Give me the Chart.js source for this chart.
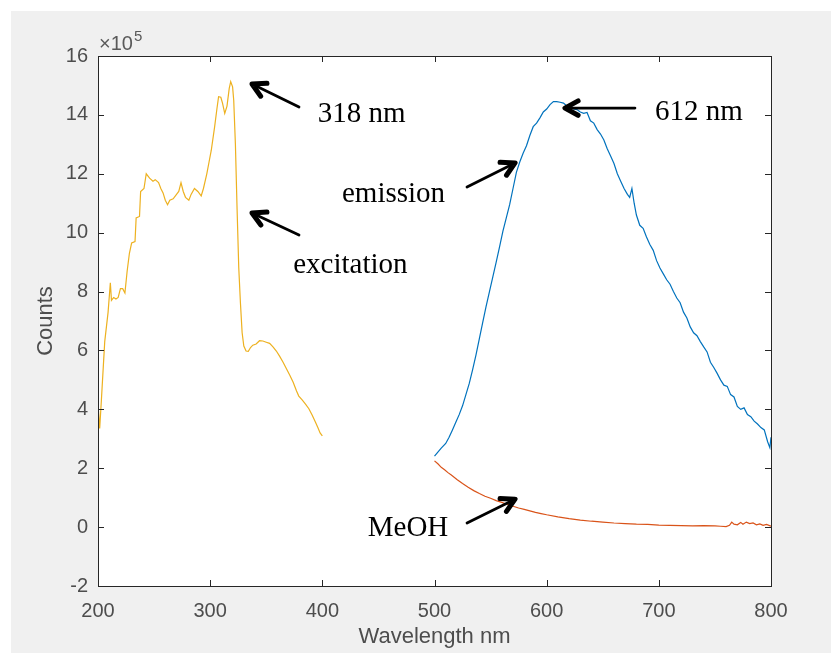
<!DOCTYPE html>
<html>
<head>
<meta charset="utf-8">
<script src="https://cdn.jsdelivr.net/npm/chart.js@4"></script>
<style>
  html, body { margin: 0; padding: 0; background: #ffffff; }
  #wrap { width: 831px; height: 653px; }
</style>
</head>
<body>
<div id="wrap"><canvas id="spectra"></canvas></div>
<script>
// excitation scan (yellow), values in units of 10^5 counts
var excitationNm = [200, 201.5, 203, 206, 209, 211, 212, 214, 216, 218, 220, 222, 224, 226, 228, 230, 233, 234, 237, 238,
  241, 243, 246, 249, 251, 254, 256, 258, 260, 262, 264, 267, 270, 272, 274, 276, 278, 281, 283, 286,
  289, 292, 294, 297, 299, 301, 304, 306, 307.5, 309.5, 311, 313, 315, 317, 318.3, 320, 321, 322.5, 324, 325.5,
  327, 328.5, 330, 332, 334, 336, 338, 341, 344, 347, 350, 353, 356, 359, 362, 365, 368, 371, 374, 377,
  379, 382, 385, 388, 391, 394, 396, 398, 400];
var excitationCounts = [4.2, 3.35, 4.3, 6.3, 7.3, 8.3, 7.7, 7.8, 7.75, 7.8, 8.1, 8.1, 7.95, 8.7, 9.3, 9.65, 9.7, 10.5, 10.55, 11.4,
  11.5, 12.0, 11.85, 11.75, 11.8, 11.7, 11.5, 11.35, 11.1, 10.95, 11.1, 11.15, 11.3, 11.4, 11.7, 11.4, 11.2, 11.1, 11.3, 11.5,
  11.4, 11.25, 11.5, 12.0, 12.4, 12.8, 13.6, 14.2, 14.62, 14.6, 14.4, 14.05, 14.3, 14.9, 15.13, 14.95, 14.5, 13.0, 10.8, 8.8,
  7.6, 6.6, 6.15, 5.98, 5.97, 6.1, 6.18, 6.22, 6.33, 6.32, 6.28, 6.24, 6.12, 5.98, 5.8, 5.6, 5.38, 5.16, 4.92, 4.62,
  4.45, 4.32, 4.18, 4.02, 3.8, 3.55, 3.38, 3.2, 3.1];

// emission scan (blue)
var emissionNm = [500, 503, 506, 510, 513, 516, 519, 522, 525, 528, 531, 534, 537, 540, 543, 546, 549, 552, 555, 558,
  561, 564, 567, 570, 573, 576, 579, 582, 585, 588, 591, 594, 597, 600, 603, 606, 609, 612, 615, 618,
  621, 624, 627, 630, 633, 636, 639, 642, 645, 648, 651, 654, 657, 660, 663, 666, 669, 672, 674, 676,
  678, 680, 683, 686, 689, 692, 695, 698, 701, 704, 707, 710, 713, 716, 719, 722, 725, 728, 731, 734,
  737, 740, 743, 746, 749, 752, 755, 758, 761, 764, 767, 770, 773, 776, 779, 782, 785, 788, 791, 794,
  797, 799, 800];
var emissionCounts = [2.41, 2.55, 2.68, 2.84, 3.05, 3.3, 3.56, 3.82, 4.12, 4.5, 4.88, 5.35, 5.85, 6.4, 6.95, 7.5, 8.0, 8.5, 9.0, 9.52,
  10.05, 10.5, 10.95, 11.5, 12.05, 12.4, 12.7, 12.95, 13.3, 13.6, 13.72, 13.9, 14.1, 14.2, 14.35, 14.45, 14.45, 14.43, 14.4, 14.3,
  14.35, 14.2, 14.18, 14.1, 14.05, 14.08, 13.8, 13.72, 13.5, 13.35, 13.15, 12.85, 12.6, 12.35, 12.0, 11.75, 11.5, 11.3, 11.2, 11.5,
  11.0, 10.6, 10.25, 10.15, 9.85, 9.6, 9.4, 9.05, 8.8, 8.6, 8.4, 8.25, 8.0, 7.78, 7.62, 7.3, 7.1, 6.8, 6.6, 6.5,
  6.3, 6.12, 5.95, 5.6, 5.42, 5.22, 5.0, 4.82, 4.78, 4.5, 4.42, 4.1, 4.0, 4.05, 3.82, 3.75, 3.6, 3.5, 3.38, 3.3,
  2.9, 2.7, 3.05];

// solvent blank (orange)
var meohNm = [500, 503, 506, 509, 512, 515, 520, 525, 530, 535, 540, 545, 550, 555, 560, 565, 570, 575, 580, 585,
  590, 595, 600, 610, 620, 630, 640, 650, 660, 670, 680, 690, 700, 710, 720, 730, 740, 750, 755, 760,
  763, 765, 767, 770, 773, 775, 778, 781, 784, 787, 790, 793, 796, 800];
var meohCounts = [2.25, 2.15, 2.03, 1.95, 1.85, 1.77, 1.62, 1.48, 1.35, 1.24, 1.14, 1.05, 0.98, 0.9, 0.84, 0.77, 0.71, 0.65, 0.6, 0.55,
  0.5, 0.46, 0.42, 0.35, 0.29, 0.24, 0.2, 0.17, 0.14, 0.12, 0.1, 0.09, 0.07, 0.06, 0.05, 0.04, 0.05, 0.04, 0.03, 0.02,
  0.06, 0.17, 0.1, 0.08, 0.16, 0.1, 0.17, 0.12, 0.14, 0.08, 0.11, 0.06, 0.09, 0.03];

var xTicks = [200, 300, 400, 500, 600, 700, 800];
var yTicks = [-2, 0, 2, 4, 6, 8, 10, 12, 14, 16];

// annotation labels and arrows (data coordinates)
var noteText = ["318 nm", "excitation", "emission", "612 nm", "MeOH"];
var noteX = [396, 374, 417.5, 696.5, 440.5];
var noteY = [13.76, 8.63, 11.04, 13.83, -0.3];
var arrowFromX = [379.2, 379.2, 529.0, 678.7, 529.0];
var arrowFromY = [14.27, 9.92, 11.55, 14.23, 0.14];
var arrowToX = [337.3, 337.3, 571.8, 616.3, 571.8];
var arrowToY = [15.05, 10.67, 12.37, 14.23, 0.95];

function toPoints(xs, ys) {
  return xs.map(function (x, i) { return { x: x, y: ys[i] }; });
}

var axisColor = "#262626";

// gray figure, white axes, inward ticks on all four sides
var matlabFrame = {
  id: "matlabFrame",
  beforeDraw: function (chart) {
    const ctx = chart.ctx;
    const a = chart.chartArea;
    ctx.save();
    ctx.fillStyle = "#ffffff";
    ctx.fillRect(0, 0, chart.width, chart.height);
    ctx.fillStyle = "#f0f0f0";
    ctx.fillRect(11, 11, chart.width - 11, chart.height - 11);
    ctx.fillStyle = "#ffffff";
    ctx.fillRect(a.left, a.top, a.right - a.left, a.bottom - a.top);
    ctx.restore();
  },
  afterDatasetsDraw: function (chart) {
    const ctx = chart.ctx;
    const a = chart.chartArea;
    const xs = chart.scales.x;
    const ys = chart.scales.y;
    const tl = 6;
    ctx.save();
    ctx.strokeStyle = axisColor;
    ctx.lineWidth = 1;
    ctx.beginPath();
    xTicks.forEach(function (t) {
      const px = Math.round(xs.getPixelForValue(t)) + 0.5;
      ctx.moveTo(px, a.bottom);
      ctx.lineTo(px, a.bottom - tl);
      ctx.moveTo(px, a.top);
      ctx.lineTo(px, a.top + tl);
    });
    yTicks.forEach(function (t) {
      const py = Math.round(ys.getPixelForValue(t)) + 0.5;
      ctx.moveTo(a.left, py);
      ctx.lineTo(a.left + tl, py);
      ctx.moveTo(a.right, py);
      ctx.lineTo(a.right - tl, py);
    });
    ctx.stroke();
    ctx.strokeRect(Math.round(a.left) + 0.5, Math.round(a.top) + 0.5,
      Math.round(a.right - a.left), Math.round(a.bottom - a.top));

    // exponent label
    ctx.fillStyle = "#5a5a5a";
    ctx.textBaseline = "alphabetic";
    ctx.textAlign = "left";
    ctx.font = "20px 'Liberation Sans', Arial, sans-serif";
    ctx.fillText("\u00d710", a.left + 1, a.top - 6);
    const w = ctx.measureText("\u00d710").width;
    ctx.font = "15px 'Liberation Sans', Arial, sans-serif";
    ctx.fillText("5", a.left + 2 + w, a.top - 15);

    // arrows
    ctx.strokeStyle = "#000000";
    ctx.lineCap = "round";
    ctx.lineJoin = "round";
    for (let i = 0; i < arrowFromX.length; i++) {
      const x0 = xs.getPixelForValue(arrowFromX[i]);
      const y0 = ys.getPixelForValue(arrowFromY[i]);
      const x1 = xs.getPixelForValue(arrowToX[i]);
      const y1 = ys.getPixelForValue(arrowToY[i]);
      const ang = Math.atan2(y1 - y0, x1 - x0);
      ctx.lineWidth = 2.8;
      ctx.beginPath();
      ctx.moveTo(x0, y0);
      ctx.lineTo(x1, y1);
      ctx.stroke();
      const head = 15;
      const spread = 0.5;
      ctx.lineWidth = 5;
      ctx.beginPath();
      ctx.moveTo(x1 - head * Math.cos(ang - spread), y1 - head * Math.sin(ang - spread));
      ctx.lineTo(x1, y1);
      ctx.lineTo(x1 - head * Math.cos(ang + spread), y1 - head * Math.sin(ang + spread));
      ctx.stroke();
    }

    // annotation texts
    ctx.fillStyle = "#000000";
    ctx.font = "29px 'Liberation Serif', 'Times New Roman', serif";
    ctx.textAlign = "left";
    ctx.textBaseline = "alphabetic";
    noteText.forEach(function (txt, i) {
      ctx.fillText(txt, xs.getPixelForValue(noteX[i]), ys.getPixelForValue(noteY[i]));
    });
    ctx.restore();
  }
};

const ctx = document.getElementById("spectra").getContext("2d");
const tickFont = { family: "'Liberation Sans', Arial, sans-serif", size: 20 };
const titleFont = { family: "'Liberation Sans', Arial, sans-serif", size: 22 };

new Chart(ctx, {
  type: "line",
  data: {
    datasets: [
      {
        label: "emission",
        data: toPoints(emissionNm, emissionCounts),
        borderColor: "#0072BD",
        borderWidth: 1.2,
        pointRadius: 0,
        tension: 0,
      },
      {
        label: "MeOH",
        data: toPoints(meohNm, meohCounts),
        borderColor: "#D95319",
        borderWidth: 1.2,
        pointRadius: 0,
        tension: 0,
      },
      {
        label: "excitation",
        data: toPoints(excitationNm, excitationCounts),
        borderColor: "#EDB120",
        borderWidth: 1.2,
        pointRadius: 0,
        tension: 0,
      },
    ],
  },
  options: {
    responsive: true,
    maintainAspectRatio: false,
    animation: false,
    layout: { padding: { left: 0, top: 56, right: 60, bottom: 0 } },
    plugins: {
      legend: { display: false },
      tooltip: { enabled: false },
    },
    scales: {
      x: {
        type: "linear",
        min: 200,
        max: 800,
        afterBuildTicks: function (scale) {
          scale.ticks = xTicks.map(function (v) { return { value: v }; });
        },
        afterFit: function (scale) { scale.height = 67; },
        grid: { display: false, drawTicks: false },
        border: { display: false },
        ticks: { color: "#4d4d4d", font: tickFont, padding: 13, maxRotation: 0 },
        title: { display: true, text: "Wavelength nm", color: "#4d4d4d", font: titleFont, padding: { top: 0, bottom: 3 } },
      },
      y: {
        type: "linear",
        min: -2,
        max: 16,
        afterBuildTicks: function (scale) {
          scale.ticks = yTicks.map(function (v) { return { value: v }; });
        },
        afterFit: function (scale) { scale.width = 98; },
        grid: { display: false, drawTicks: false },
        border: { display: false },
        ticks: { color: "#4d4d4d", font: tickFont, padding: 10 },
        title: { display: true, text: "Counts", color: "#4d4d4d", font: titleFont, padding: { top: 33, bottom: 0 } },
      },
    },
  },
  plugins: [matlabFrame],
});
</script>
</body>
</html>
